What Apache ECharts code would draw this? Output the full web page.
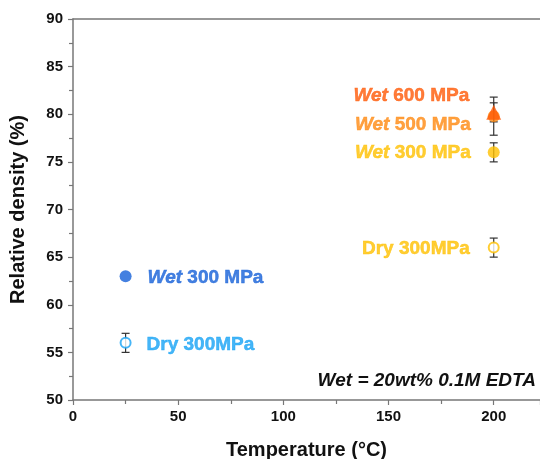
<!DOCTYPE html>
<html>
<head>
<meta charset="utf-8">
<script src="https://cdn.jsdelivr.net/npm/echarts@6/dist/echarts.min.js"></script>
<style>
html,body{margin:0;padding:0;background:#fff;}
#chart{width:540px;height:459px;}
</style>
</head>
<body>
<div id="chart"></div>
<script>
// Sintering temperatures (°C)
const temperature = [25, 200];
// Relative density (%) and error (±) per processing condition
const wet300 = [63.0, 76.0];
const wet300Err = [0, 1.0];
const dry300 = [56.0, 66.0];
const dry300Err = [1.0, 1.0];
const wet500 = [null, 79.8];
const wet500Err = [null, 2.0];
const wet600 = [null, 80.2];
const wet600Err = [null, 1.0];
// Axis ticks
const xTicks = [0, 50, 100, 150, 200];
const yTicks = [50, 55, 60, 65, 70, 75, 80, 85, 90];

const FONT = '"Liberation Sans", Arial, sans-serif';
const BLUE = '#1560d8', LBLUE = '#16a2f5', GOLD = '#ffc000', ORANGE = '#ff8a12', RED = '#ff5a08';

function richLabel(color, pos, dist, offset, wet, rest) {
  const base = {fontFamily: FONT, fontSize: 19, fontWeight: 'bold', color: color,
    textBorderColor: color, textBorderWidth: 0.5};
  return {
    show: true, position: pos, distance: dist, offset: offset,
    formatter: wet ? '{w|Wet}{n| ' + rest + '}' : '{n|' + rest + '}',
    rich: {
      w: Object.assign({fontStyle: 'italic'}, base),
      n: base
    }
  };
}

// error bar triples [x, low, high]
const errData = [];
function addErr(vals, errs) {
  vals.forEach((v, i) => {
    if (v != null && errs[i]) errData.push([temperature[i], v - errs[i], v + errs[i]]);
  });
}
addErr(wet600, wet600Err);
addErr(wet500, wet500Err);
addErr(wet300, wet300Err);
addErr(dry300, dry300Err);

const chart = echarts.init(document.getElementById('chart'));
chart.setOption({
  animation: false,
  grid: {left: 73, right: 0, top: 19, bottom: 59, containLabel: false, outerBoundsMode: 'none'},
  xAxis: [{
    type: 'value', min: 0, max: 222, interval: 50,
    name: 'Temperature (°C)', nameLocation: 'middle', nameGap: 40,
    nameTextStyle: {fontFamily: FONT, fontSize: 20, fontWeight: 'bold', color: '#111'},
    axisLine: {show: true, onZero: false, lineStyle: {color: '#777', width: 1.5}},
    axisTick: {show: true, inside: false, length: 5, lineStyle: {color: '#777', width: 1.2}},
    minorTick: {show: true, splitNumber: 2, length: 4, lineStyle: {color: '#777', width: 1.2}},
    axisLabel: {fontFamily: FONT, fontSize: 15, fontWeight: 'bold', color: '#111', margin: 9,
      formatter: v => xTicks.includes(v) ? String(v) : ''},
    splitLine: {show: false}
  }, {
    type: 'value', position: 'top', min: 0, max: 222,
    axisLine: {show: true, lineStyle: {color: '#777', width: 1.5}},
    axisTick: {show: false}, axisLabel: {show: false}, splitLine: {show: false}
  }],
  yAxis: {
    type: 'value', min: 50, max: 90, interval: 5,
    name: 'Relative density (%)', nameLocation: 'middle', nameGap: 45,
    nameTextStyle: {fontFamily: FONT, fontSize: 20, fontWeight: 'bold', color: '#111'},
    axisLine: {show: true, onZero: false, lineStyle: {color: '#777', width: 1.5}},
    axisTick: {show: true, inside: false, length: 5, lineStyle: {color: '#777', width: 1.2}},
    minorTick: {show: true, splitNumber: 2, length: 4, lineStyle: {color: '#777', width: 1.2}},
    axisLabel: {fontFamily: FONT, fontSize: 15, fontWeight: 'bold', color: '#111', margin: 10,
      formatter: v => yTicks.includes(v) ? String(v) : ''},
    splitLine: {show: false}
  },
  series: [
    {
      type: 'custom', name: 'error', z: 1,
      renderItem: function (params, api) {
        const x = api.value(0);
        const lo = api.coord([x, api.value(1)]);
        const hi = api.coord([x, api.value(2)]);
        const hw = 4;
        const style = {stroke: '#333', lineWidth: 1.2};
        return {type: 'group', children: [
          {type: 'line', shape: {x1: lo[0], y1: lo[1], x2: hi[0], y2: hi[1]}, style: style},
          {type: 'line', shape: {x1: lo[0] - hw, y1: lo[1], x2: lo[0] + hw, y2: lo[1]}, style: style},
          {type: 'line', shape: {x1: hi[0] - hw, y1: hi[1], x2: hi[0] + hw, y2: hi[1]}, style: style}
        ]};
      },
      encode: {x: 0, y: [1, 2]},
      data: errData
    },
    {
      type: 'scatter', name: 'Wet 500 MPa', z: 3, symbol: 'circle', symbolSize: 12,
      itemStyle: {color: ORANGE},
      label: richLabel(ORANGE, 'left', 17, [0, 9], true, '500 MPa'),
      data: temperature.map((t, i) => [t, wet500[i]]).filter(d => d[1] != null)
    },
    {
      type: 'scatter', name: 'Wet 600 MPa', z: 4, symbol: 'triangle', symbolSize: 15,
      itemStyle: {color: RED},
      label: richLabel(RED, 'left', 17, [0, -17], true, '600 MPa'),
      data: temperature.map((t, i) => [t, wet600[i]]).filter(d => d[1] != null)
    },
    {
      type: 'scatter', name: 'Wet 300 MPa', z: 3, symbol: 'circle', symbolSize: 12,
      data: [
        {value: [temperature[0], wet300[0]], itemStyle: {color: BLUE},
          label: richLabel(BLUE, 'right', 16, [0, 2], true, '300 MPa')},
        {value: [temperature[1], wet300[1]], itemStyle: {color: GOLD},
          label: richLabel(GOLD, 'left', 17, [0, 0], true, '300 MPa')}
      ]
    },
    {
      type: 'scatter', name: 'Dry 300MPa', z: 3, symbol: 'circle', symbolSize: 10,
      data: [
        {value: [temperature[0], dry300[0]], itemStyle: {color: '#fff', borderColor: LBLUE, borderWidth: 2},
          label: richLabel(LBLUE, 'right', 15, [0, 2], false, 'Dry 300MPa')},
        {value: [temperature[1], dry300[1]], itemStyle: {color: '#fff', borderColor: GOLD, borderWidth: 2},
          label: richLabel(GOLD, 'left', 18, [0, 1], false, 'Dry 300MPa')}
      ]
    }
  ],
  graphic: [{
    type: 'text', right: 4, top: 371, z: 10,
    style: {
      text: 'Wet = 20wt% 0.1M EDTA',
      font: 'italic bold 19px ' + FONT,
      fill: '#111'
    }
  }]
});
</script>
</body>
</html>
